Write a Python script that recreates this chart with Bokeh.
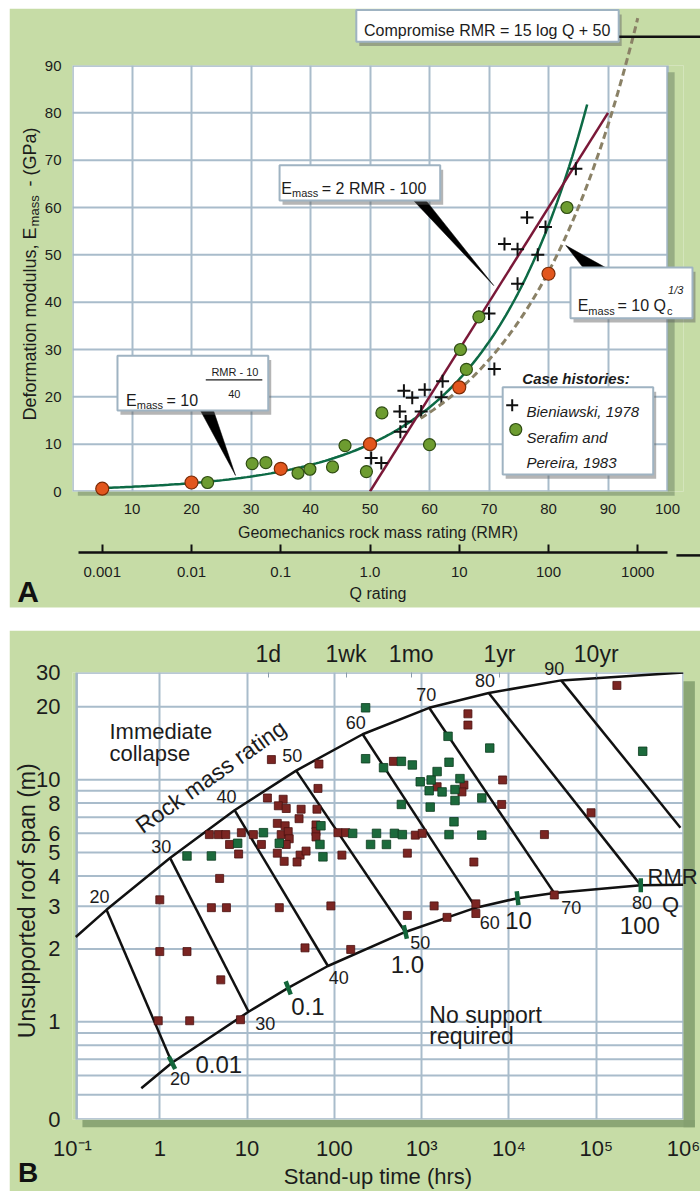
import numpy as np
from bokeh.plotting import figure
from bokeh.models import Range1d, LogScale, LinearAxis, LogAxis, FixedTicker
from bokeh.layouts import column
from bokeh.core.properties import value
from bokeh.embed import file_html
from bokeh.resources import INLINE

BG = "#c6dca6"
GRID = "#a9bccb"
EDGE = "#a3b7c7"
FR = "Liberation Sans"
INK = "#1c1c1c"

# ---------------- Panel A data ----------------
rmr_ticks = [10, 20, 30, 40, 50, 60, 70, 80, 90, 100]
e_ticks = [0, 10, 20, 30, 40, 50, 60, 70, 80, 90]
q_ticks = [0.001, 0.01, 0.1, 1, 10, 100, 1000]
q_tick_labels = ["0.001", "0.01", "0.1", "1.0", "10", "100", "1000"]

bien_rmr = [84.6, 76.4, 79.5, 72.6, 74.8, 78.2, 74.8, 70.0, 70.9, 62.2,
            55.7, 59.2, 57.1, 62.0, 55.0, 58.6, 56.0, 55.1, 50.2, 51.9]
bien_e = [68.2, 57.9, 55.9, 52.3, 51.2, 50.0, 43.9, 37.6, 25.9, 23.3,
          21.3, 21.5, 19.8, 19.9, 16.9, 16.9, 14.8, 12.6, 7.1, 6.0]
ser_rmr = [83.1, 68.3, 65.2, 66.2, 52.0, 60.0, 49.4, 22.7, 30.2, 32.5, 37.9, 39.9, 43.7, 45.8]
ser_e = [60.0, 36.9, 30.0, 25.8, 16.6, 9.9, 4.2, 1.9, 5.9, 6.1, 3.9, 4.7, 5.2, 9.7]
comp_q = [0.001, 0.01, 0.1, 1, 10, 100, 1000]
comp_e = [0.6, 1.9, 4.8, 10.0, 22.0, 46.0, 99.0]

# ---------------- Panel B data ----------------
x_ticks_b = [0.1, 1, 10, 100, 1000, 1e4, 1e5, 1e6]
x_labels_b = ["10\u207b\u00b9", "1", "10", "100", "10\u00b3", "10\u2074", "10\u2075", "10\u2076"]
y_ticks_b = [0.395, 1, 2, 3, 4, 5, 6, 8, 10, 20, 27.7]
y_labels_b = ["0", "1", "2", "3", "4", "5", "6", "8", "10", "20", "30"]
y_grid_b = [0.5, 0.6, 0.7, 0.8, 0.9, 1, 2, 3, 4, 5, 6, 7, 8, 9, 10, 20]
time_marks = [17.5, 136, 760, 7800, 100000]
time_labels = ["1d", "1wk", "1mo", "1yr", "10yr"]

maroon_t = [19.0, 66.6, 64.9, 17.1, 25.9, 22.8, 28.1, 41.6, 63.2, 39.4, 22.2, 27.3, 61.6, 3.7, 4.7,
            5.7, 8.6, 11.8, 24.6, 29.6, 30.4, 61.6, 61.6, 110, 135, 6.3, 14.6, 28.1, 8.0, 22.2,
            40.5, 47.4, 26.6, 37.4, 122, 4.85, 1.0, 3.9, 5.8, 23.4, 91.2, 1.0, 2.05, 5.0, 0.96,
            2.2, 8.4, 46.1, 154, 686, 1390, 1954, 4180, 4180, 475, 1504, 3053, 2897, 8470, 8260,
            846, 1016, 686, 3965, 3390, 3390, 25500, 87300, 172600, 33100]
maroon_s = [12.1, 11.6, 9.2, 8.4, 8.3, 7.8, 7.6, 7.55, 7.55, 6.9, 6.6, 6.45, 6.5, 5.93, 5.93,
            5.93, 6.04, 5.93, 5.93, 6.1, 5.7, 6.1, 5.8, 6.04, 6.04, 5.4, 5.4, 5.4, 4.93, 4.97,
            4.88, 5.07, 4.6, 4.57, 4.88, 3.91, 3.19, 2.96, 2.96, 2.96, 3.01, 1.95, 1.95, 1.49, 1.01,
            1.01, 1.02, 2.02, 1.99, 2.75, 3.01, 2.7, 3.07, 2.8, 11.9, 9.35, 9.5, 8.9, 9.97, 7.9,
            5.9, 6.0, 4.97, 4.57, 18.7, 16.8, 5.93, 7.3, 24.5, 3.34]
green_t = [2.05, 3.9, 7.8, 15.4, 23.4, 70.2, 68.4, 74.0, 162, 228, 228, 304, 260, 366, 395, 488,
           586, 586, 601, 782, 964, 1220, 1285, 1253, 1504, 1714, 2006, 2059, 2059, 2348, 2410,
           2410, 2748, 4890, 4890, 6030, 341000]
green_s = [4.84, 4.84, 5.46, 6.04, 5.46, 6.45, 5.4, 4.8, 6.0, 19.8, 12.2, 6.0, 5.4, 11.2, 5.4, 6.0,
           11.9, 7.9, 5.93, 11.5, 9.8, 9.0, 9.97, 7.7, 10.8, 8.9, 15.1, 11.8, 5.93, 6.7, 9.1,
           8.2, 10.1, 8.4, 5.9, 13.5, 13.1]

upper_t = [0.109, 0.245, 1.31, 7.19, 36.5, 211, 1220, 5870, 39700, 1e6]
upper_s = [2.24, 2.9, 4.75, 7.48, 10.9, 15.4, 19.8, 22.8, 25.7, 27.7]
lower_t = [0.614, 1.38, 10.4, 29.6, 84.4, 650, 4180, 12560, 33100, 324000, 1e6]
lower_s = [0.532, 0.678, 1.10, 1.38, 1.70, 2.35, 2.96, 3.24, 3.40, 3.66, 3.68]

rmr_levels = ["20", "30", "40", "50", "60", "70", "80", "90"]
rmr_top_t = [0.245, 1.31, 7.19, 36.5, 211, 1220, 5870, 39700]
rmr_top_s = [2.9, 4.75, 7.48, 10.9, 15.4, 19.8, 22.8, 25.7]
rmr_bot_t = [1.38, 10.4, 84.4, 650, 4180, 33100, 324000, 922000]
rmr_bot_s = [0.678, 1.10, 1.70, 2.35, 2.96, 3.40, 3.66, 6.33]

q_levels = ["0.01", "0.1", "1.0", "10", "100"]
q_on_t = [1.38, 29.6, 650, 12560, 324000]
q_on_s = [0.678, 1.38, 2.35, 3.24, 3.66]


def txt(p, x, y, s, size, font=FR, align="left", baseline="alphabetic", style="normal",
        angle=0.0, level="glyph", color=INK, **kw):
    p.text(x=[x], y=[y], text=[s], text_font=value(font), text_font_size=f"{size}px",
           text_font_style=style, text_align=align, text_baseline=baseline, text_color=color,
           angle=angle, level=level, **kw)


def callout(p, l, r, b, t, level="glyph", dx=0.5, dy=0.9):
    p.quad(left=[l + dx], right=[r + dx], bottom=[b - dy], top=[t - dy], fill_color="#5a5a5a",
           fill_alpha=0.45, line_color=None, level=level)
    p.quad(left=[l], right=[r], bottom=[b], top=[t], fill_color="white", line_color="#9fb3c2",
           line_width=2, level=level)


def style_axis(a, size, standoff, color=INK):
    a.axis_line_color = None
    a.major_tick_line_color = None
    a.minor_tick_line_color = None
    a.major_label_standoff = standoff
    a.major_label_text_font = FR
    a.major_label_text_font_size = f"{size}px"
    a.major_label_text_color = color


# ======================= Panel A =======================
A_X1 = 611 / 5.95  # frame spans 611 px, RMR 100 sits 16 px inside the right edge
pA = figure(width=691, height=608, x_range=Range1d(0, A_X1), y_range=Range1d(0, 90),
            output_backend="svg", toolbar_location=None, margin=(8, 0, 14, 9),
            min_border_left=63, min_border_right=17, min_border_top=57, min_border_bottom=125,
            border_fill_color=BG, background_fill_color=BG, outline_line_color=None)
pA.extra_x_ranges = {"q": Range1d(10 ** (-50 / 15), 10 ** ((A_X1 - 50) / 15))}
pA.extra_x_scales = {"q": LogScale()}

# visible frame
pA.quad(left=[0], right=[100], bottom=[0], top=[90], fill_color="white", line_color=None, level="image")
pA.xgrid.ticker = FixedTicker(ticks=rmr_ticks[:-1])
pA.xgrid.grid_line_color = GRID
pA.xgrid.grid_line_width = 2
pA.ygrid.visible = False
pA.segment(x0=[0] * 8, x1=[100] * 8, y0=e_ticks[1:-1], y1=e_ticks[1:-1], line_color=GRID,
           line_width=2, level="underlay")
pA.quad(left=[0], right=[100], bottom=[0], top=[90], fill_color=None, line_color=EDGE,
        line_width=2.5, level="underlay")

ax = pA.xaxis[0]
ax.ticker = FixedTicker(ticks=rmr_ticks)
style_axis(ax, 15, 6)
ax.axis_label = "Geomechanics rock mass rating (RMR)"
ax.axis_label_standoff = 7
ax.axis_label_text_font = FR
ax.axis_label_text_font_size = "16px"
ax.axis_label_text_font_style = "normal"
ax.axis_label_text_color = INK

ay = pA.yaxis[0]
ay.ticker = FixedTicker(ticks=e_ticks)
style_axis(ay, 15, 5)

# invisible spacer between the RMR scale and the Q scale
spacer = LinearAxis(ticker=FixedTicker(ticks=[101.8]), axis_line_color=None, major_tick_out=9,
                    major_tick_in=0, major_tick_line_color=BG, minor_tick_line_color=None,
                    major_label_standoff=0, major_label_text_font_size="1px",
                    major_label_text_color=BG, major_label_overrides={101.8: ""})
pA.add_layout(spacer, "below")

q_over = {v: l for v, l in zip(q_ticks, q_tick_labels)}
qaxis = LogAxis(x_range_name="q", ticker=FixedTicker(ticks=q_ticks), major_label_overrides=q_over,
                bounds=(10 ** (-49 / 15), 10 ** (50 / 15)),
                axis_line_color="#111111", axis_line_width=2.5, major_tick_in=8, major_tick_out=0,
                major_tick_line_width=2, major_tick_line_color="#111111", minor_tick_line_color=None,
                major_label_standoff=14, major_label_text_font=FR, major_label_text_font_size="15px",
                major_label_text_color=INK, axis_label="Q rating", axis_label_standoff=5,
                axis_label_text_font=FR, axis_label_text_font_size="16px",
                axis_label_text_font_style="normal", axis_label_text_color=INK)
pA.add_layout(qaxis, "below")

# frame shadow
pA.quad(left=[100.05], right=[101.2], bottom=[-0.9], top=[88.6], fill_color="#8ea47c",
        fill_alpha=0.85, line_color=None)
pA.quad(left=[0.9], right=[101.2], bottom=[-0.9], top=[-0.05], fill_color="#8ea47c",
        fill_alpha=0.85, line_color=None, level="annotation")

# curves
rmr_g = np.linspace(6, 86.5, 160)
pA.line(rmr_g, 10 ** ((rmr_g - 10) / 40), line_color="#0d6a45", line_width=2.5)
pA.line([50, 90], [0, 80], line_color="#7a1838", line_width=2.5)
q_d = np.logspace(np.log10(3.69), 3, 120)
pA.line(q_d, 10 * q_d ** (1 / 3), x_range_name="q", line_color="#8a8166", line_width=3,
        line_dash="7 4", level="overlay")

# pointers
pA.patch([57.3, 59.4, 70.8], [61.5, 61.5, 43.5], fill_color="black", line_color="black", line_width=0.5)
pA.patch([85.8, 89.6, 82.9], [47.3, 47.3, 52.0], fill_color="black", line_color="black", line_width=0.5)
pA.patch([21.5, 23.7, 27.4], [17.1, 17.1, 3.4], fill_color="black", line_color="black", line_width=0.5)

# data points
pA.scatter(bien_rmr, bien_e, marker="cross", size=13, line_color="#111111", line_width=2)
pA.scatter(ser_rmr, ser_e, marker="circle", size=12, fill_color="#6d9c30", line_color="#2f4d12",
           line_width=1.2)
pA.scatter(comp_q, comp_e, x_range_name="q", marker="circle", size=13, fill_color="#e2561d",
           line_color="#7a2a05", line_width=1.2, level="overlay")

# callout 1
callout(pA, 34.8, 61.8, 61.5, 68.9)
txt(pA, 35.1, 64.0, "E", 16)
txt(pA, 36.9, 63.0, "mass", 11)
txt(pA, 41.9, 64.0, "= 2 RMR - 100", 16)
# callout 2 (extends beyond the grid frame)
callout(pA, 83.7, 104.2, 36.6, 47.3, level="overlay")
txt(pA, 84.9, 39.3, "E", 16, level="overlay")
txt(pA, 86.7, 38.2, "mass", 11, level="overlay")
txt(pA, 91.6, 39.3, "= 10 Q", 16, level="overlay")
txt(pA, 99.9, 38.2, "c", 11, level="overlay")
txt(pA, 100.1, 42.6, "1/3", 11, style="italic", level="overlay")
# callout 3
callout(pA, 7.56, 32.9, 17.1, 28.7)
txt(pA, 9.0, 19.2, "E", 16)
txt(pA, 10.8, 18.3, "mass", 11)
txt(pA, 15.8, 19.2, "= 10", 16)
txt(pA, 27.3, 25.2, "RMR - 10", 11, align="center")
pA.line([22.4, 31.9], [23.6, 23.6], line_color=INK, line_width=1.2)
txt(pA, 27.2, 20.6, "40", 11, align="center")

# legend
txt(pA, 75.6, 23.9, "Case histories:", 15, style="bold italic")
callout(pA, 72.3, 97.6, 3.6, 22.0)
pA.scatter([73.9], [18.2], marker="cross", size=12, line_color="#111111", line_width=2)
txt(pA, 76.3, 16.9, "Bieniawski, 1978", 15, style="italic")
pA.scatter([74.5], [13.1], marker="circle", size=12, fill_color="#6d9c30", line_color="#2f4d12",
           line_width=1.2)
txt(pA, 76.3, 11.4, "Serafim and", 15, style="italic")
txt(pA, 76.3, 6.1, "Pereira, 1983", 15, style="italic")

# compromise box and leader
callout(pA, 47.7, 91.8, 95.0, 101.7, level="overlay")
txt(pA, 69.7, 97.5, "Compromise RMR = 15 log Q + 50", 16, align="center", level="overlay")
pA.line([91.9, 105.5], [96.1, 96.1], line_color="#111111", line_width=2.5, level="overlay")

# Q axis arrow
pA.line([101.5, 105.5], [-13.5, -13.5], line_color="#111111", line_width=2.5, level="overlay")
pA.scatter([102.1], [-13.5], marker="triangle", angle=np.pi / 2, size=12, fill_color="#111111",
           line_color="#111111", level="overlay")

# y title
txt(pA, -7.06, 15.0, "Deformation modulus, E", 18, baseline="middle", angle=np.pi / 2,
    level="overlay")
txt(pA, -6.35, 56.0, "mass", 13, baseline="middle", angle=np.pi / 2, level="overlay")
txt(pA, -7.06, 76.9, "- (GPa)", 18, align="right", baseline="middle", angle=np.pi / 2,
    level="overlay")
txt(pA, -9.3, -21.2, "A", 30, style="bold", level="overlay", color="#111111")

# white gap under the green panel (page y 607-616)
pA.quad(left=[-15], right=[106], bottom=[-28], top=[(491 - 607) / 4.733], fill_color="white",
        line_color=None, level="overlay")

# ======================= Panel B =======================
B_X0 = 10 ** ((72 - 155.7) / 87.9)  # visible frame left edge (page x = 72)
pB = figure(width=691, height=561, x_axis_type="log", y_axis_type="log",
            x_range=Range1d(0.1, 1e6), y_range=Range1d(0.395, 27.7),
            output_backend="svg", toolbar_location=None, margin=(0, 0, 0, 9),
            min_border_left=63, min_border_right=17, min_border_top=42, min_border_bottom=61,
            border_fill_color=BG, background_fill_color=BG, outline_line_color=None)

pB.quad(left=[B_X0], right=[1e6], bottom=[0.395], top=[27.7], fill_color="white", line_color=None,
        level="image")
pB.xgrid.ticker = FixedTicker(ticks=[1, 10, 100, 1000, 1e4, 1e5])
pB.xgrid.grid_line_color = GRID
pB.xgrid.grid_line_width = 2
pB.ygrid.visible = False
pB.segment(x0=[B_X0] * len(y_grid_b), x1=[1e6] * len(y_grid_b), y0=y_grid_b, y1=y_grid_b,
           line_color=GRID, line_width=2, level="underlay")
pB.quad(left=[B_X0], right=[1e6], bottom=[0.395], top=[27.7], fill_color=None, line_color=EDGE,
        line_width=2.5, level="underlay")

bx = pB.xaxis[0]
bx.ticker = FixedTicker(ticks=x_ticks_b)
bx.major_label_overrides = {v: l for v, l in zip(x_ticks_b, x_labels_b)}
style_axis(bx, 22, 10)
bx.axis_label = "Stand-up time (hrs)"
bx.axis_label_standoff = 0
bx.axis_label_text_font = FR
bx.axis_label_text_font_size = "22px"
bx.axis_label_text_font_style = "normal"
bx.axis_label_text_color = INK

by = pB.yaxis[0]
by.ticker = FixedTicker(ticks=y_ticks_b)
by.major_label_overrides = {v: l for v, l in zip(y_ticks_b, y_labels_b)}
style_axis(by, 22, 6)

top = LogAxis(ticker=FixedTicker(ticks=time_marks),
              major_label_overrides={v: l for v, l in zip(time_marks, time_labels)},
              axis_line_color=None, major_tick_in=5, major_tick_out=0, major_tick_line_color="#8a9cab",
              minor_tick_line_color=None, major_label_standoff=6, major_label_text_font=FR,
              major_label_text_font_size="23px", major_label_text_color=INK)
pB.add_layout(top, "above")

# frame shadow
pB.quad(left=[1e6], right=[1.35e6], bottom=[0.367], top=[25.5], fill_color="#84a070",
        fill_alpha=0.9, line_color=None, level="annotation")
pB.quad(left=[0.13], right=[1.35e6], bottom=[0.367], top=[0.393], fill_color="#84a070",
        fill_alpha=0.9, line_color=None, level="annotation")

# envelope curves and RMR lines
pB.line(upper_t, upper_s, line_color="#111111", line_width=2.5)
pB.line(lower_t, lower_s, line_color="#111111", line_width=2.5)
pB.segment(x0=rmr_top_t, y0=rmr_top_s, x1=rmr_bot_t, y1=rmr_bot_s, line_color="#111111",
           line_width=2.5)

# case squares
pB.scatter(maroon_t, maroon_s, marker="square", size=8, fill_color="#7b2522", line_color="#4a1210",
           line_width=0.8)
pB.scatter(green_t, green_s, marker="square", size=8.5, fill_color="#1c6a3c", line_color="#0c3c1f",
           line_width=0.8)

# Q marks on lower curve
q_ang = np.deg2rad([117, 111, 103, 97, 90])
pB.scatter(q_on_t, q_on_s, marker="dash", size=14, angle=q_ang, line_color="#13663a", line_width=4.5)

# RMR labels along upper curve
up_lab_t = [0.204, 1.04, 5.83, 33, 176, 1130, 5330, 33000]
up_lab_s = [3.28, 5.31, 8.51, 12.6, 17.2, 22.5, 25.7, 28.7]
for t, s, l in zip(up_lab_t, up_lab_s, rmr_levels):
    txt(pB, t, s, l, 18, align="center", baseline="middle", level="overlay")
low_lab_t = [1.70, 16.2, 112, 966, 6030, 51800, 334000]
low_lab_s = [0.584, 0.98, 1.52, 2.12, 2.57, 2.96, 3.10]
for t, s, l in zip(low_lab_t, low_lab_s, rmr_levels[:-1]):
    txt(pB, t, s, l, 18, align="center", baseline="middle")
q_lab_t = [4.74, 49.8, 686, 12900, 316000]
q_lab_s = [0.665, 1.16, 1.73, 2.62, 2.50]
for t, s, l in zip(q_lab_t, q_lab_s, q_levels):
    txt(pB, t, s, l, 24, align="center", baseline="middle")
txt(pB, 750000, 3.98, "RMR", 22, align="center", baseline="middle", level="overlay")
txt(pB, 711000, 3.04, "Q", 22, align="center", baseline="middle")

txt(pB, 0.265, 15.85, "Immediate", 22)
txt(pB, 0.265, 12.8, "collapse", 22)
txt(pB, 3.84, 10.3, "Rock mass rating", 23, align="center", baseline="middle", angle=0.614)
txt(pB, 1225, 1.07, "No support", 23)
txt(pB, 1225, 0.87, "required", 23)
txt(pB, 0.0301, 3.16, "Unsupported roof span (m)", 23, align="center", baseline="middle",
    angle=np.pi / 2, level="overlay")
txt(pB, 0.0238, 0.238, "B", 28, style="bold", level="overlay", color="#111111")

layout = column(pA, pB)
with open("out.html", "w") as f:
    f.write(file_html(layout, INLINE))
